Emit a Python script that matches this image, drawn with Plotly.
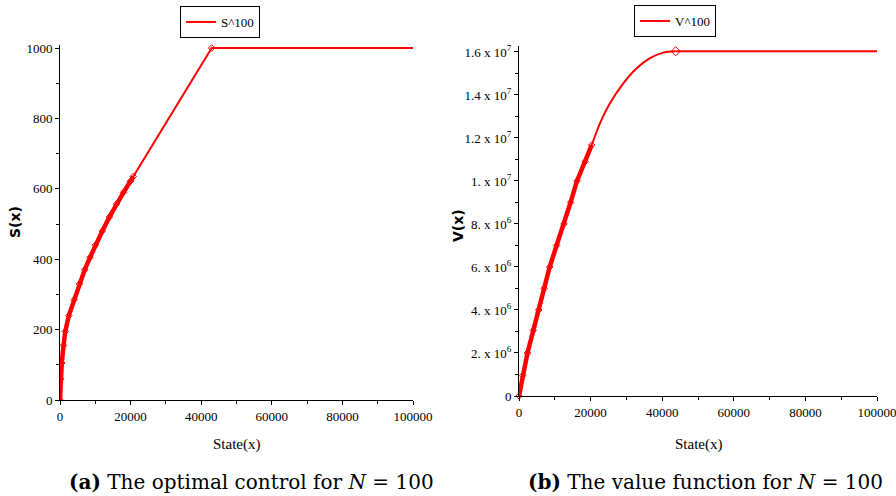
import plotly.graph_objects as go

# ---- data ----
S_x = [0, 200, 500, 1000, 1500, 2500, 4000, 5500, 7000, 8500, 10000, 12000,
       14000, 16000, 18000, 20000, 20770, 42970, 100000]
S_y = [0, 60, 105, 155, 195, 240, 285, 330, 370, 405, 440, 480,
       520, 557, 590, 622, 635, 1000, 1000]
S_band_end = 17   # dense-marker band covers the first points
S_kink = 17

V_x = [0, 1000, 2370, 4000, 5500, 7000, 8570, 10500, 12570, 14400, 16200,
       18500, 20300, 22600, 25400, 29140, 32870, 36600, 40300, 43770, 100000]
V_y = [0, 0.95e6, 2.0e6, 3.05e6, 4.0e6, 5.0e6, 6.0e6, 7.0e6, 8.0e6, 9.0e6,
       1.0e7, 1.09e7, 1.167e7, 1.268e7, 1.361e7, 1.454e7, 1.524e7, 1.571e7,
       1.597e7, 1.603e7, 1.603e7]
V_band_end = 13
V_kink = 19

x_ticks = [0, 20000, 40000, 60000, 80000, 100000]
x_ticktext = ["0", "20000", "40000", "60000", "80000", "100000"]
S_ticks = [0, 200, 400, 600, 800, 1000]
V_ticks = [0, 2e6, 4e6, 6e6, 8e6, 1e7, 1.2e7, 1.4e7, 1.6e7]
V_ticktext = ["0", "2. x 10<sup>6</sup>", "4. x 10<sup>6</sup>", "6. x 10<sup>6</sup>",
              "8. x 10<sup>6</sup>", "1. x 10<sup>7</sup>", "1.2 x 10<sup>7</sup>",
              "1.4 x 10<sup>7</sup>", "1.6 x 10<sup>7</sup>"]

RED = "#ff0000"
W, H = 896, 496
SERIF = "Liberation Serif"

fig = go.Figure()

# ---- left panel: S^100 ----
fig.add_trace(go.Scatter(x=S_x, y=S_y, mode="lines", name="S^100",
                         line=dict(color=RED, width=2), xaxis="x", yaxis="y",
                         legend="legend"))
fig.add_trace(go.Scatter(x=S_x[:S_band_end], y=S_y[:S_band_end], mode="lines+markers",
                         line=dict(color=RED, width=4.5),
                         marker=dict(symbol="diamond-open", size=5, color=RED),
                         showlegend=False, xaxis="x", yaxis="y"))
fig.add_trace(go.Scatter(x=[S_x[S_kink]], y=[S_y[S_kink]], mode="markers",
                         marker=dict(symbol="diamond-open", size=5, color=RED),
                         showlegend=False, xaxis="x", yaxis="y", cliponaxis=False))

# ---- right panel: V^100 ----
fig.add_trace(go.Scatter(x=V_x[:V_kink + 1], y=V_y[:V_kink + 1], mode="lines", name="V^100",
                         line=dict(color=RED, width=2, shape="spline", smoothing=0.7),
                         xaxis="x2", yaxis="y2", legend="legend2"))
fig.add_trace(go.Scatter(x=V_x[V_kink:], y=V_y[V_kink:], mode="lines",
                         line=dict(color=RED, width=2),
                         showlegend=False, xaxis="x2", yaxis="y2"))
fig.add_trace(go.Scatter(x=V_x[:V_band_end], y=V_y[:V_band_end], mode="lines+markers",
                         line=dict(color=RED, width=4.5),
                         marker=dict(symbol="diamond-open", size=5, color=RED),
                         showlegend=False, xaxis="x2", yaxis="y2", cliponaxis=False))
fig.add_trace(go.Scatter(x=[V_x[V_kink]], y=[V_y[V_kink]], mode="markers",
                         marker=dict(symbol="diamond-open", size=7, color=RED),
                         showlegend=False, xaxis="x2", yaxis="y2", cliponaxis=False))


def px_x(p):
    return p / W


def px_y(p):
    return 1 - p / H


tickfont = dict(family=SERIF, size=13, color="black")
axis_common = dict(showline=True, linecolor="black", linewidth=1, showgrid=False,
                   zeroline=False, ticks="outside", ticklen=4, tickcolor="black",
                   tickfont=tickfont, ticklabeloverflow="allow")

# left axes: x 0 at px 60, 100000 at px 413 ; y 0 at px 400, 1000 at px 48
fig.update_layout(
    xaxis=dict(domain=[px_x(60), px_x(413)], range=[0, 100000], anchor="y",
               tickvals=x_ticks, ticktext=x_ticktext,
               minor=dict(ticks="outside", dtick=10000, ticklen=3, tickcolor="black"),
               **axis_common),
    yaxis=dict(domain=[px_y(400), px_y(44.5)], range=[0, 1010], anchor="x",
               tickvals=S_ticks,
               minor=dict(ticks="outside", dtick=100, ticklen=3, tickcolor="black"),
               **axis_common),
    xaxis2=dict(domain=[px_x(519), px_x(877)], range=[0, 100000], anchor="y2",
                tickvals=x_ticks, ticktext=x_ticktext,
                minor=dict(ticks="outside", dtick=10000, ticklen=3, tickcolor="black"),
                **axis_common),
    yaxis2=dict(domain=[px_y(396), px_y(45.5)], range=[0, 1.63e7], anchor="x2",
                tickvals=V_ticks, ticktext=V_ticktext,
                minor=dict(ticks="outside", dtick=1e6, ticklen=3, tickcolor="black"),
                **axis_common),
)

legend_common = dict(bordercolor="black", borderwidth=1, bgcolor="white",
                     font=dict(family=SERIF, size=13, color="black"),
                     xanchor="center", yanchor="top", orientation="v",
                     tracegroupgap=0, itemwidth=30)
fig.update_layout(
    legend=dict(x=px_x(220), y=px_y(6), **legend_common),
    legend2=dict(x=px_x(675), y=px_y(5), **legend_common),
)


def ann(text, cx, cy, font, angle=0):
    return dict(text=text, x=px_x(cx), y=px_y(cy), xref="paper", yref="paper",
                xanchor="center", yanchor="middle", showarrow=False,
                textangle=angle, font=font)


CAP = dict(family="DejaVu Serif", size=20, color="black")
annotations = [
    ann("State(x)", 236, 444, dict(family=SERIF, size=15, color="black")),
    ann("State(x)", 698, 444, dict(family=SERIF, size=15, color="black")),
    ann("<b>S(x)</b>", 15, 222, dict(family="DejaVu Sans", size=14, color="black"), -90),
    ann("<b>V(x)</b>", 458, 226, dict(family="DejaVu Sans", size=14, color="black"), -90),
    ann("<b>(a)</b> The optimal control for <i>N</i> = 100", 251.5, 482, CAP),
    ann("<b>(b)</b> The value function for <i>N</i> = 100", 705, 482, CAP),
]

fig.update_layout(
    width=W, height=H, margin=dict(l=0, r=0, t=0, b=0, autoexpand=False),
    paper_bgcolor="white", plot_bgcolor="white",
    annotations=annotations,
)

fig.write_html("out.html")
